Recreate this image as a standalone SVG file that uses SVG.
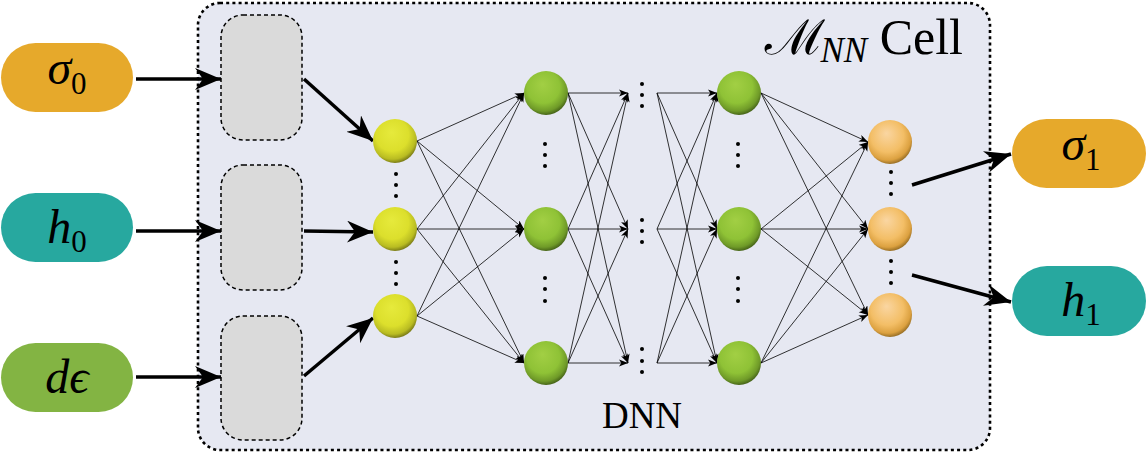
<svg xmlns="http://www.w3.org/2000/svg" width="1146" height="453" viewBox="0 0 1146 453">
<style>
.pill-o{fill:#E6A92B}
.pill-t{fill:#27A89F}
.pill-g{fill:#83B443}
.box{fill:#DADADA;stroke:#000;stroke-width:1.5;stroke-dasharray:4 3}
.thick{stroke:#000;stroke-width:3.5;fill:none;marker-end:url(#big)}
.thin{stroke:#000;stroke-width:0.8;fill:none;marker-end:url(#small)}
.dot{fill:#000}
</style>
<defs>
<radialGradient id="gy" cx="0.45" cy="0.4" r="0.62" fx="0.42" fy="0.3">
<stop offset="0" stop-color="#e6ea3c"/><stop offset="0.6" stop-color="#dcdf2c"/><stop offset="0.85" stop-color="#b9bc22"/><stop offset="1" stop-color="#6f7016"/>
</radialGradient>
<radialGradient id="gg" cx="0.45" cy="0.4" r="0.62" fx="0.42" fy="0.3">
<stop offset="0" stop-color="#a2cf44"/><stop offset="0.6" stop-color="#8fc236"/><stop offset="0.85" stop-color="#6f9a28"/><stop offset="1" stop-color="#3f5a16"/>
</radialGradient>
<radialGradient id="go" cx="0.45" cy="0.4" r="0.62" fx="0.42" fy="0.3">
<stop offset="0" stop-color="#fad6a2"/><stop offset="0.6" stop-color="#f3be66"/><stop offset="0.85" stop-color="#dca140"/><stop offset="1" stop-color="#8d6620"/>
</radialGradient>
<marker id="big" markerUnits="userSpaceOnUse" markerWidth="28" markerHeight="24" refX="26" refY="11" orient="auto">
<path d="M0,0 L26,11 L0,22 L8,11 z" fill="#000"/>
</marker>
<marker id="small" markerUnits="userSpaceOnUse" markerWidth="10" markerHeight="8" refX="9" refY="3.6" orient="auto">
<path d="M0,0 L9,3.6 L0,7.2 L2.3,3.6 z" fill="#000"/>
</marker>
</defs>

<g id="cell">
<rect x="198" y="3" width="792" height="447" rx="22" fill="#E6E8F2" stroke="#000" stroke-width="2.6" stroke-dasharray="3 3.2"/>
<text font-family="'Liberation Serif', FreeSerif, serif" x="963" y="54" text-anchor="end" font-size="50"><tspan>ℳ</tspan><tspan font-size="35" font-style="italic" dy="8">NN</tspan><tspan dy="-8"> Cell</tspan></text>
<text font-family="'Liberation Serif', FreeSerif, serif" x="642" y="428" text-anchor="middle" font-size="37">DNN</text>
</g>

<g id="in-sigma0"><rect class="pill-o" x="1" y="43" width="132" height="69" rx="34.5"/><text font-family="'Liberation Serif', FreeSerif, serif" x="67" y="84" text-anchor="middle" font-size="48"><tspan font-style="italic">σ</tspan><tspan font-size="31" dy="10">0</tspan></text></g>
<g id="in-h0"><rect class="pill-t" x="1" y="193" width="132" height="69" rx="34.5"/><text font-family="'Liberation Serif', FreeSerif, serif" x="67" y="243" text-anchor="middle" font-size="48"><tspan font-style="italic">h</tspan><tspan font-size="31" dy="9">0</tspan></text></g>
<g id="in-deps"><rect class="pill-g" x="1" y="343" width="132" height="69" rx="34.5"/><text font-family="'Liberation Serif', FreeSerif, serif" x="67" y="393" text-anchor="middle" font-size="48" font-style="italic">dϵ</text></g>

<g id="out-sigma1"><rect class="pill-o" x="1012" y="119" width="134" height="69" rx="34.5"/><text font-family="'Liberation Serif', FreeSerif, serif" x="1081" y="160" text-anchor="middle" font-size="48"><tspan font-style="italic">σ</tspan><tspan font-size="31" dy="10">1</tspan></text></g>
<g id="out-h1"><rect class="pill-t" x="1012" y="266" width="134" height="70" rx="35"/><text font-family="'Liberation Serif', FreeSerif, serif" x="1081" y="316" text-anchor="middle" font-size="48"><tspan font-style="italic">h</tspan><tspan font-size="31" dy="9">1</tspan></text></g>

<g id="enc1"><rect class="box" x="221" y="15" width="81" height="125" rx="22"/></g>
<g id="enc2"><rect class="box" x="221" y="165" width="81" height="125" rx="22"/></g>
<g id="enc3"><rect class="box" x="221" y="316" width="81" height="124" rx="22"/></g>

<g id="connectors">
<line class="thick" x1="136" y1="79" x2="221" y2="79"/>
<line class="thick" x1="136" y1="231" x2="221" y2="231"/>
<line class="thick" x1="136" y1="377" x2="221" y2="377"/>
<line class="thick" x1="304" y1="79" x2="373" y2="141"/>
<line class="thick" x1="304" y1="231" x2="373" y2="232"/>
<line class="thick" x1="304" y1="376" x2="373" y2="318"/>
<line class="thick" x1="912" y1="185" x2="1011" y2="154"/>
<line class="thick" x1="912" y1="275" x2="1011" y2="302"/>
<line class="thin" x1="417" y1="141" x2="524" y2="93"/>
<line class="thin" x1="417" y1="141" x2="524" y2="229"/>
<line class="thin" x1="417" y1="141" x2="524" y2="363"/>
<line class="thin" x1="417" y1="229" x2="524" y2="93"/>
<line class="thin" x1="417" y1="229" x2="524" y2="229"/>
<line class="thin" x1="417" y1="229" x2="524" y2="363"/>
<line class="thin" x1="417" y1="316" x2="524" y2="93"/>
<line class="thin" x1="417" y1="316" x2="524" y2="229"/>
<line class="thin" x1="417" y1="316" x2="524" y2="363"/>
<line class="thin" x1="568" y1="93" x2="628" y2="93"/>
<line class="thin" x1="568" y1="93" x2="628" y2="229"/>
<line class="thin" x1="568" y1="93" x2="628" y2="363"/>
<line class="thin" x1="568" y1="229" x2="628" y2="93"/>
<line class="thin" x1="568" y1="229" x2="628" y2="229"/>
<line class="thin" x1="568" y1="229" x2="628" y2="363"/>
<line class="thin" x1="568" y1="363" x2="628" y2="93"/>
<line class="thin" x1="568" y1="363" x2="628" y2="229"/>
<line class="thin" x1="568" y1="363" x2="628" y2="363"/>
<line class="thin" x1="657" y1="93" x2="717" y2="93"/>
<line class="thin" x1="657" y1="93" x2="717" y2="229"/>
<line class="thin" x1="657" y1="93" x2="717" y2="363"/>
<line class="thin" x1="657" y1="229" x2="717" y2="93"/>
<line class="thin" x1="657" y1="229" x2="717" y2="229"/>
<line class="thin" x1="657" y1="229" x2="717" y2="363"/>
<line class="thin" x1="657" y1="363" x2="717" y2="93"/>
<line class="thin" x1="657" y1="363" x2="717" y2="229"/>
<line class="thin" x1="657" y1="363" x2="717" y2="363"/>
<line class="thin" x1="761" y1="93" x2="868" y2="142"/>
<line class="thin" x1="761" y1="93" x2="868" y2="229"/>
<line class="thin" x1="761" y1="93" x2="868" y2="315"/>
<line class="thin" x1="761" y1="229" x2="868" y2="142"/>
<line class="thin" x1="761" y1="229" x2="868" y2="229"/>
<line class="thin" x1="761" y1="229" x2="868" y2="315"/>
<line class="thin" x1="761" y1="363" x2="868" y2="142"/>
<line class="thin" x1="761" y1="363" x2="868" y2="229"/>
<line class="thin" x1="761" y1="363" x2="868" y2="315"/>
</g>

<g id="layer1">
<circle cx="395" cy="141" r="22" fill="url(#gy)"/>
<circle cx="395" cy="229" r="22" fill="url(#gy)"/>
<circle cx="395" cy="316" r="22" fill="url(#gy)"/>
<circle class="dot" cx="396" cy="174" r="2"/><circle class="dot" cx="396" cy="185" r="2"/><circle class="dot" cx="396" cy="196" r="2"/>
<circle class="dot" cx="396" cy="262" r="2"/><circle class="dot" cx="396" cy="273" r="2"/><circle class="dot" cx="396" cy="284" r="2"/>
</g>
<g id="layer2">
<circle cx="546" cy="93" r="22" fill="url(#gg)"/>
<circle cx="546" cy="229" r="22" fill="url(#gg)"/>
<circle cx="546" cy="363" r="22" fill="url(#gg)"/>
<circle class="dot" cx="545" cy="144" r="2"/><circle class="dot" cx="545" cy="155" r="2"/><circle class="dot" cx="545" cy="166" r="2"/>
<circle class="dot" cx="545" cy="278" r="2"/><circle class="dot" cx="545" cy="289" r="2"/><circle class="dot" cx="545" cy="301" r="2"/>
</g>
<g id="hidden-dots">
<circle class="dot" cx="642" cy="84" r="2"/><circle class="dot" cx="642" cy="95" r="2"/><circle class="dot" cx="642" cy="106" r="2"/>
<circle class="dot" cx="642" cy="220" r="2"/><circle class="dot" cx="642" cy="231" r="2"/><circle class="dot" cx="642" cy="242" r="2"/>
<circle class="dot" cx="642" cy="349" r="2"/><circle class="dot" cx="642" cy="361" r="2"/><circle class="dot" cx="642" cy="372" r="2"/>
</g>
<g id="layer3">
<circle cx="739" cy="93" r="22" fill="url(#gg)"/>
<circle cx="739" cy="229" r="22" fill="url(#gg)"/>
<circle cx="739" cy="363" r="22" fill="url(#gg)"/>
<circle class="dot" cx="738" cy="144" r="2"/><circle class="dot" cx="738" cy="155" r="2"/><circle class="dot" cx="738" cy="166" r="2"/>
<circle class="dot" cx="738" cy="278" r="2"/><circle class="dot" cx="738" cy="289" r="2"/><circle class="dot" cx="738" cy="301" r="2"/>
</g>
<g id="output-layer">
<circle cx="890" cy="142" r="22" fill="url(#go)"/>
<circle cx="890" cy="229" r="22" fill="url(#go)"/>
<circle cx="890" cy="315" r="22" fill="url(#go)"/>
<circle class="dot" cx="891" cy="172" r="2"/><circle class="dot" cx="891" cy="183" r="2"/><circle class="dot" cx="891" cy="194" r="2"/>
<circle class="dot" cx="891" cy="261" r="2"/><circle class="dot" cx="891" cy="272" r="2"/><circle class="dot" cx="891" cy="283" r="2"/>
</g>
</svg>
